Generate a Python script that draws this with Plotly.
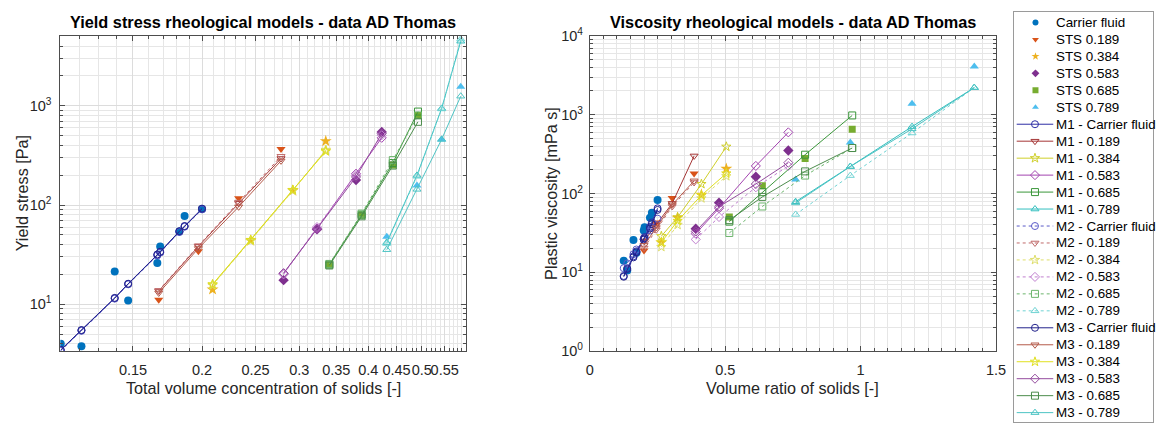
import numpy as np
import plotly.graph_objects as go

# ---------------- data ----------------
group_names = ["Carrier fluid", "0.189", "0.384", "0.583", "0.685", "0.789"]
data_names = ["Carrier fluid", "STS 0.189", "STS 0.384", "STS 0.583", "STS 0.685", "STS 0.789"]

# total volume concentration of solids [-] (left panel x)
conc_cf = [0.111, 0.121, 0.139, 0.147, 0.166, 0.168, 0.182, 0.186, 0.200]
conc_189 = [0.167, 0.197, 0.233, 0.278]
conc_384 = [0.209, 0.245, 0.292, 0.335]
conc_583 = [0.281, 0.323, 0.380, 0.423]
conc_685 = [0.340, 0.389, 0.443, 0.492]
conc_789 = [0.432, 0.490, 0.543, 0.588]

# volume ratio of solids [-] (right panel x)
ratio_cf = [0.125, 0.138, 0.161, 0.172, 0.199, 0.202, 0.222, 0.229, 0.250]
ratio_189 = [0.200, 0.245, 0.304, 0.385]
ratio_384 = [0.264, 0.324, 0.412, 0.504]
ratio_583 = [0.391, 0.477, 0.613, 0.733]
ratio_685 = [0.515, 0.637, 0.795, 0.969]
ratio_789 = [0.760, 0.962, 1.190, 1.420]

# yield stress [Pa]: measured and models M1, M2, M3
ty_cf = [3.99, 3.78, 21.4, 10.9, 26.0, 38.3, 54.2, 77.4, 91.0]
ty_m1_cf = [3.44, 5.45, 11.5, 16.0, 31.4, 33.5, 54.0, 61.0, 91.0]
ty_m2_cf = [3.40, 5.40, 11.4, 15.9, 31.0, 33.2, 53.5, 60.5, 90.5]
ty_m3_cf = [3.47, 5.50, 11.6, 16.1, 31.8, 33.8, 54.5, 61.5, 92.0]

ty_189 = [11.1, 34.2, 117, 367]
ty_m1_189 = [13.6, 38.3, 104, 295]
ty_m2_189 = [13.8, 39.0, 107, 310]
ty_m3_189 = [13.0, 36.5, 96, 279]

ty_384 = [14.1, 43.8, 140, 441]
ty_m1_384 = [15.7, 44.0, 141, 354]
ty_m2_384 = [15.5, 43.5, 139, 360]
ty_m3_384 = [15.9, 44.5, 142, 348]

ty_583 = [17.5, 56.8, 179, 545]
ty_m1_583 = [20.4, 58.0, 207, 476]
ty_m2_583 = [20.0, 60.0, 200, 505]
ty_m3_583 = [20.6, 57.0, 192, 525]

ty_685 = [24.9, 79.3, 253, 800]
ty_m1_685 = [25.2, 80.0, 265, 875]
ty_m2_685 = [25.5, 82.0, 284, 800]
ty_m3_685 = [24.6, 77.0, 250, 690]

ty_789 = [47.8, 157, 459, 1560]
ty_m1_789 = [41.9, 199, 942, 4480]
ty_m2_789 = [41.0, 195, 930, 4700]
ty_m3_789 = [35.5, 144, 459, 1250]

# plastic viscosity [mPa s]: measured and models M1, M2, M3
mu_cf = [14.0, 10.6, 25.7, 17.7, 34.0, 37.3, 49.4, 56.9, 82.6]
mu_m1_cf = [9.0, 11.3, 16.0, 18.5, 27.0, 28.0, 38.0, 43.0, 65.0]
mu_m2_cf = [11.3, 13.0, 17.0, 19.5, 26.0, 27.0, 34.0, 37.0, 48.0]
mu_m3_cf = [8.8, 11.0, 15.5, 18.0, 26.0, 27.0, 36.0, 41.0, 62.0]

mu_189 = [18.9, 43.0, 88.0, 179]
mu_m1_189 = [25.0, 40.0, 75.0, 300]
mu_m2_189 = [20.4, 34.7, 68.5, 138]
mu_m3_189 = [22.0, 37.0, 72.0, 145]

mu_384 = [23.9, 49.4, 96.8, 206]
mu_m1_384 = [28.8, 50.0, 132, 393]
mu_m2_384 = [21.0, 40.0, 87.0, 166]
mu_m3_384 = [24.0, 45.0, 95.0, 180]

mu_583 = [35.7, 76.6, 163, 351]
mu_m1_583 = [31.0, 65.0, 224, 597]
mu_m2_583 = [26.2, 50.4, 120, 224]
mu_m3_583 = [33.0, 68.0, 132, 246]

mu_685 = [50.4, 126, 278, 656]
mu_m1_685 = [44.0, 104, 311, 979]
mu_m2_685 = [31.6, 68.5, 169, 378]
mu_m3_685 = [46.0, 90.6, 191, 378]

mu_789 = [151, 443, 1380, 4080]
mu_m1_789 = [78.8, 220, 706, 2205]
mu_m2_789 = [54.3, 169, 586, 2205]
mu_m3_789 = [76.0, 220, 661, 2205]

left_xticks = [0.15, 0.2, 0.25, 0.3, 0.35, 0.4, 0.45, 0.5, 0.55]
left_yticks = [10, 100, 1000]
right_xticks = [0, 0.5, 1, 1.5]
right_yticks = [1, 10, 100, 1000, 10000]

# ---------------- assemble ----------------
conc = [conc_cf, conc_189, conc_384, conc_583, conc_685, conc_789]
ratio = [ratio_cf, ratio_189, ratio_384, ratio_583, ratio_685, ratio_789]
ty_data = [ty_cf, ty_189, ty_384, ty_583, ty_685, ty_789]
ty_models = [
    [ty_m1_cf, ty_m1_189, ty_m1_384, ty_m1_583, ty_m1_685, ty_m1_789],
    [ty_m2_cf, ty_m2_189, ty_m2_384, ty_m2_583, ty_m2_685, ty_m2_789],
    [ty_m3_cf, ty_m3_189, ty_m3_384, ty_m3_583, ty_m3_685, ty_m3_789],
]
mu_data = [mu_cf, mu_189, mu_384, mu_583, mu_685, mu_789]
mu_models = [
    [mu_m1_cf, mu_m1_189, mu_m1_384, mu_m1_583, mu_m1_685, mu_m1_789],
    [mu_m2_cf, mu_m2_189, mu_m2_384, mu_m2_583, mu_m2_685, mu_m2_789],
    [mu_m3_cf, mu_m3_189, mu_m3_384, mu_m3_583, mu_m3_685, mu_m3_789],
]

# ---------------- styles ----------------
data_colors = ['#0072BD', '#D95319', '#EDB120', '#7E2F8E', '#77AC30', '#4DBEEE']
data_symbols = ['circle', 'triangle-down', 'star', 'diamond', 'square', 'triangle-up']
data_sizes = [8, 8, 9, 8, 7, 8]
model_colors = [
    ['#2E2EA6', '#A53535', '#CFCF2A', '#A344B0', '#3A963A', '#33BFBF'],
    ['#5A5AC8', '#C06A6A', '#DEDE6A', '#C07FCF', '#6DB56D', '#6FD3D3'],
    ['#23238C', '#B45A4A', '#E0E020', '#944C9E', '#4C8C4C', '#4DC4C4'],
]
model_dash = ['solid', 'dot', 'solid']
FONT = 'Liberation Sans, Arial, Helvetica, sans-serif'
W, H = 1167, 433

fig = go.Figure()

for xa, ya, xs, yd, ym in [('x', 'y', conc, ty_data, ty_models),
                           ('x2', 'y2', ratio, mu_data, mu_models)]:
    for g in range(6):
        fig.add_trace(go.Scatter(
            x=xs[g], y=yd[g], mode='markers', xaxis=xa, yaxis=ya,
            marker=dict(symbol=data_symbols[g], color=data_colors[g], size=data_sizes[g],
                        line=dict(width=0)),
            name=data_names[g], showlegend=False))
    for m in range(3):
        for g in range(6):
            fig.add_trace(go.Scatter(
                x=xs[g], y=ym[m][g], mode='lines+markers', xaxis=xa, yaxis=ya,
                line=dict(color=model_colors[m][g], width=1, dash=model_dash[m]),
                marker=dict(symbol=data_symbols[g] + '-open', color=model_colors[m][g], size=7,
                            line=dict(width=1)),
                name=f"M{m+1} - {group_names[g]}", showlegend=False))

# ---------------- manual legend (drawn in its own axis) ----------------
legend_labels = data_names + [f"M{m+1} - {n}" for m in range(3) for n in group_names]
annotations = []
for i, lab in enumerate(legend_labels):
    if i < 6:
        g = i
        fig.add_trace(go.Scatter(x=[22], y=[i], mode='markers', xaxis='x3', yaxis='y3',
                                 marker=dict(symbol=data_symbols[g], color=data_colors[g], size=6,
                                             line=dict(width=0)),
                                 showlegend=False, hoverinfo='skip'))
    else:
        m, g = divmod(i - 6, 6)
        fig.add_trace(go.Scatter(x=[3, 40], y=[i, i], mode='lines', xaxis='x3', yaxis='y3',
                                 line=dict(color=model_colors[m][g], width=1, dash=model_dash[m]),
                                 showlegend=False, hoverinfo='skip'))
        fig.add_trace(go.Scatter(x=[21.5], y=[i], mode='markers', xaxis='x3', yaxis='y3',
                                 marker=dict(symbol=data_symbols[g] + '-open', color=model_colors[m][g],
                                             size=7, line=dict(width=1)),
                                 showlegend=False, hoverinfo='skip'))
    annotations.append(dict(x=41, y=i, xref='x3', yref='y3', text=lab, showarrow=False,
                            xanchor='left', yanchor='middle',
                            font=dict(family=FONT, size=13.4, color='#000000')))

# titles and axis labels
def px(x):
    return x / W

def py(y):
    return 1 - y / H

annotations += [
    dict(x=px((57 + 468) / 2), y=py(13), xref='paper', yref='paper', showarrow=False,
         text='<b>Yield stress rheological models - data AD Thomas</b>',
         font=dict(family=FONT, size=16.3, color='#000000'), xanchor='center', yanchor='middle'),
    dict(x=px((593 + 1004) / 2), y=py(13), xref='paper', yref='paper', showarrow=False,
         text='<b>Viscosity rheological models - data AD Thomas</b>',
         font=dict(family=FONT, size=16.3, color='#000000'), xanchor='center', yanchor='middle'),
    dict(x=px((57 + 468) / 2), y=py(394), xref='paper', yref='paper', showarrow=False,
         text='Total volume concentration of solids [-]',
         font=dict(family=FONT, size=16.2, color='#262626'), xanchor='center', yanchor='middle'),
    dict(x=px((593 + 1004) / 2), y=py(394), xref='paper', yref='paper', showarrow=False,
         text='Volume ratio of solids [-]',
         font=dict(family=FONT, size=16.2, color='#262626'), xanchor='center', yanchor='middle'),
    dict(x=px(18), y=py(191.5), xref='paper', yref='paper', showarrow=False, textangle=-90,
         text='Yield stress [Pa]',
         font=dict(family=FONT, size=16.2, color='#262626'), xanchor='center', yanchor='middle'),
    dict(x=px(553), y=py(191.5), xref='paper', yref='paper', showarrow=False, textangle=-90,
         text='Plastic viscosity [mPa s]',
         font=dict(family=FONT, size=16.2, color='#262626'), xanchor='center', yanchor='middle'),
]

GRID = '#dcdcdc'
MINOR = '#e6e6e6'
LINE = '#4d4d4d'
TICKFONT = dict(family=FONT, size=14.5, color='#262626')

def sup(v):
    return '10<sup>%d</sup>' % int(round(np.log10(v)))

log_minor = [k * 10 ** d for d in range(-1, 5) for k in range(2, 10)]
left_x_minor = [round(v, 2) for v in np.arange(0.11, 0.61, 0.01)]

common = dict(showline=True, linecolor=LINE, linewidth=1, mirror='ticks', ticks='inside',
              ticklen=5, tickcolor=LINE, showgrid=True, gridcolor=GRID, gridwidth=1,
              zeroline=False, tickfont=TICKFONT, tickangle=0)

fig.update_layout(
    width=W, height=H, margin=dict(l=0, r=0, t=0, b=0),
    paper_bgcolor='white', plot_bgcolor='white', showlegend=False,
    font=dict(family=FONT, size=14, color='#262626'),
    annotations=annotations,
    xaxis=dict(type='log', domain=[px(57), px(468)], anchor='y',
               range=[np.log10(0.1108), np.log10(0.602)],
               tickmode='array', tickvals=left_xticks, ticktext=[str(t) for t in left_xticks],
               ticklabelstandoff=5,
               minor=dict(tickmode='array', tickvals=left_x_minor, showgrid=True, gridcolor=MINOR,
                          ticks='inside', ticklen=3, tickcolor=LINE),
               **common),
    yaxis=dict(type='log', domain=[py(356), py(27)], anchor='x',
               range=[0.527, 3.705],
               tickmode='array', tickvals=left_yticks, ticktext=[sup(v) for v in left_yticks],
               ticklabelstandoff=5,
               minor=dict(tickmode='array', tickvals=log_minor, showgrid=True, gridcolor=MINOR,
                          ticks='inside', ticklen=3, tickcolor=LINE),
               **common),
    xaxis2=dict(type='linear', domain=[px(593), px(1004)], anchor='y2', range=[0, 1.5],
                tickmode='array', tickvals=right_xticks, ticktext=['0', '0.5', '1', '1.5'],
                ticklabelstandoff=5,
                minor=dict(dtick=0.05, showgrid=True, gridcolor=MINOR,
                           ticks='inside', ticklen=3, tickcolor=LINE),
                **common),
    yaxis2=dict(type='log', domain=[py(356), py(27)], anchor='x2', range=[0, 4],
                tickmode='array', tickvals=right_yticks, ticktext=[sup(v) for v in right_yticks],
                ticklabelstandoff=3,
                minor=dict(tickmode='array', tickvals=log_minor, showgrid=True, gridcolor=MINOR,
                           ticks='inside', ticklen=3, tickcolor=LINE),
                **common),
    xaxis3=dict(domain=[px(1022), px(1163)], anchor='y3', range=[0, 141], visible=True,
                showline=True, linecolor='#9a9a9a', mirror=True, showgrid=False,
                zeroline=False, showticklabels=False, ticks=''),
    yaxis3=dict(domain=[py(430), py(2)], anchor='x3', range=[23.56, -0.62],
                showline=True, linecolor='#9a9a9a', mirror=True, showgrid=False,
                zeroline=False, showticklabels=False, ticks=''),
)

fig.write_html("out.html")
